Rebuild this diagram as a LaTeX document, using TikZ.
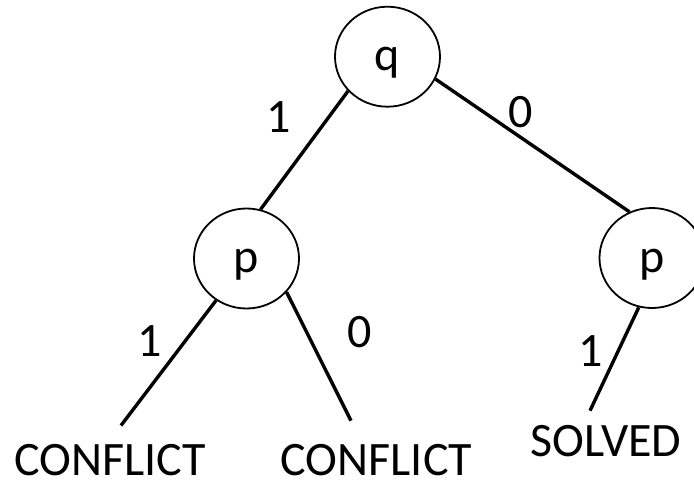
\documentclass[tikz,border=0pt]{standalone}
\usepackage{fontspec}
\setmainfont{Carlito}
\usetikzlibrary{shapes.geometric}

\tikzset{
  var/.style={ellipse, draw, line width=1.8pt, minimum width=105pt, minimum height=100pt,
    inner sep=0pt, text height=32pt, text depth=4pt, font=\fontsize{48}{52}\selectfont},
  edge/.style={line width=3.4pt},
  val/.style={inner sep=0pt, font=\fontsize{48}{52}\selectfont},
  leaf/.style={inner sep=0pt, anchor=base, text depth=0pt, font=\fontsize{48}{52}\selectfont}
}

\begin{document}
\begin{tikzpicture}[x=1pt, y=-1pt]
  \useasboundingbox (0,0) rectangle (694,480);

  % decision nodes
  \node[var] (q)  at (387.5,56.7) {q};
  \node[var] (pL) at (246.5,258.5) {p};
  \node[var] (pR) at (652,258) {p};

  % outcomes
  \node[leaf] (c1) at (110,475) {CONFLICT};
  \node[leaf] (c2) at (376.5,475) {CONFLICT};
  \node[leaf] (s1) at (606,456.7) {SOLVED};

  % free ends of the branches towards the outcomes
  \coordinate (e1) at (121,425.5);
  \coordinate (e2) at (351,420.7);
  \coordinate (e3) at (590,410.7);

  % branches
  \draw[edge] (q.221.6) -- (pL.74.4);
  \draw[edge] (q.-25.4) -- (pR.116.7);
  \draw[edge] (pL.234) -- (e1);
  \draw[edge] (pL.320.2) -- (e2);
  \draw[edge] (pR.255.4) -- (e3);

  % branch values
  \node[val] (l1) at (279,117) {1};
  \node[val] (l2) at (521,112) {0};
  \node[val] (l3) at (150,341.5) {1};
  \node[val] (l4) at (360,332) {0};
  \node[val] (l5) at (590.5,351.5) {1};
\end{tikzpicture}
\end{document}
